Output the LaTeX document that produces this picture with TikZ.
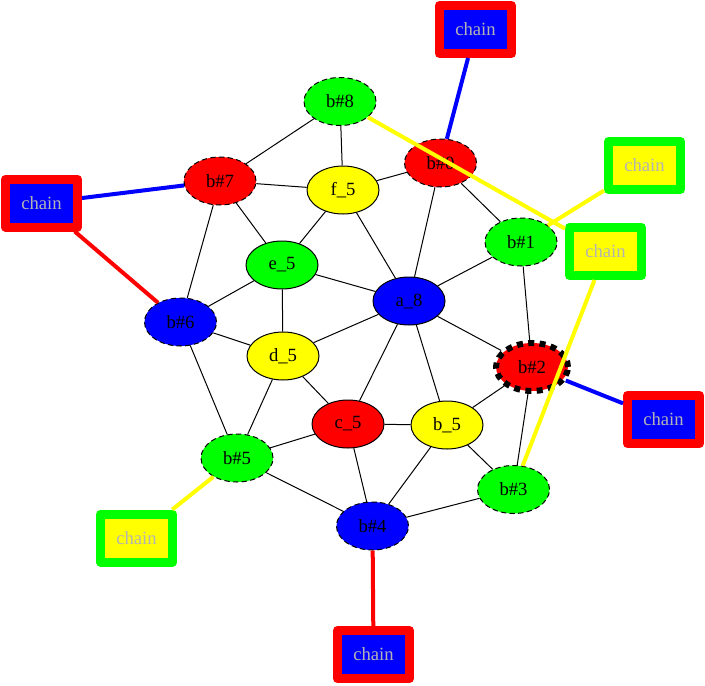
\documentclass[tikz,border=0pt]{standalone}
\usepackage{fontspec}
\setmainfont{Liberation Serif}
\usetikzlibrary{shapes.geometric}
\definecolor{gvgray}{HTML}{B4B4B4}
\definecolor{gvred}{HTML}{FF0000}
\definecolor{gvgreen}{HTML}{00FF00}
\definecolor{gvblue}{HTML}{0000FF}
\definecolor{gvyellow}{HTML}{FFFF00}
\begin{document}
\begin{tikzpicture}[x=0.75pt,y=-0.75pt,
  gnode/.style={ellipse, draw=black, line width=0.75pt, minimum width=54pt, minimum height=36pt, inner sep=0pt, font=\fontsize{14}{16}\selectfont},
  dnode/.style={gnode, dash pattern=on 4pt off 2.5pt},
  bignode/.style={gnode, line width=4.5pt, dash pattern=on 4.5pt off 4pt},
  chainbox/.style={rectangle, minimum width=54pt, minimum height=36pt, line width=6.75pt, line join=round, inner sep=0pt, text=gvgray, font=\fontsize{14}{16}\selectfont},
  edge/.style={draw=black, line width=0.75pt},
  cedge/.style={line width=3pt}]
\fill[white] (0,0) rectangle (705,685);
\useasboundingbox (0,0) rectangle (705,685);
% graph nodes
\node[dnode, fill=gvgreen] (b8) at (340,101.5) {b\#8};
\node[dnode, fill=gvred] (b0) at (440.5,163) {b\#0};
\node[dnode, fill=gvred] (b7) at (220,181) {b\#7};
\node[gnode, fill=gvyellow] (f5) at (343,190) {f\_5};
\node[dnode, fill=gvgreen] (b1) at (521,242) {b\#1};
\node[gnode, fill=gvgreen] (e5) at (282,265) {e\_5};
\node[gnode, fill=gvblue] (a8) at (409,301) {a\_8};
\node[dnode, fill=gvblue] (b6) at (180.5,322) {b\#6};
\node[gnode, fill=gvyellow] (d5) at (283,356) {d\_5};
\node[bignode, fill=gvred] (b2) at (532,367) {b\#2};
\node[gnode, fill=gvred] (c5) at (348,424) {c\_5};
\node[gnode, fill=gvyellow] (b5y) at (447,425) {b\_5};
\node[dnode, fill=gvgreen] (b5) at (237,458) {b\#5};
\node[dnode, fill=gvgreen] (b3) at (513.5,489.5) {b\#3};
\node[dnode, fill=gvblue] (b4) at (372.5,526) {b\#4};
% chain boxes
\node[chainbox, draw=gvred, fill=gvblue] (ct) at (475.5,29.5) {chain};
\node[chainbox, draw=gvred, fill=gvblue] (cl) at (41.5,203) {chain};
\node[chainbox, draw=gvgreen, fill=gvyellow] (ctr) at (644.5,165.5) {chain};
\node[chainbox, draw=gvgreen, fill=gvyellow] (cm) at (605.5,251.5) {chain};
\node[chainbox, draw=gvred, fill=gvblue] (cr) at (663.5,419.5) {chain};
\node[chainbox, draw=gvgreen, fill=gvyellow] (clb) at (136.5,538) {chain};
\node[chainbox, draw=gvred, fill=gvblue] (cb) at (373.5,654.5) {chain};
% black edges
\draw[edge] (b8) -- (b7);
\draw[edge] (b8) -- (f5);
\draw[edge] (b7) -- (f5);
\draw[edge] (b7) -- (e5);
\draw[edge] (b7) -- (b6);
\draw[edge] (f5) -- (b0);
\draw[edge] (f5) -- (e5);
\draw[edge] (f5) -- (a8);
\draw[edge] (b0) -- (a8);
\draw[edge] (b0) -- (b1);
\draw[edge] (b1) -- (a8);
\draw[edge] (b1) -- (b2);
\draw[edge] (e5) -- (b6);
\draw[edge] (e5) -- (d5);
\draw[edge] (e5) -- (a8);
\draw[edge] (b6) -- (d5);
\draw[edge] (b6) -- (b5);
\draw[edge] (a8) -- (d5);
\draw[edge] (a8) -- (c5);
\draw[edge] (a8) -- (b5y);
\draw[edge] (a8) -- (b2);
\draw[edge] (d5) -- (c5);
\draw[edge] (d5) -- (b5);
\draw[edge] (b2) -- (b5y);
\draw[edge] (b2) -- (b3);
\draw[edge] (c5) -- (b5y);
\draw[edge] (c5) -- (b5);
\draw[edge] (c5) -- (b4);
\draw[edge] (b5y) -- (b4);
\draw[edge] (b5y) -- (b3);
\draw[edge] (b5) -- (b4);
\draw[edge] (b4) -- (b3);
% chain edges
\draw[cedge, gvblue] (ct) -- (b0);
\draw[cedge, gvblue] (cl) -- (b7);
\draw[cedge, gvred] (cl) -- (b6);
\draw[cedge, gvyellow] (ctr) -- (b1);
\draw[cedge, gvyellow] (b8) -- (cm);
\draw[cedge, gvyellow] (cm) -- (b3);
\draw[cedge, gvblue] (b2) -- (cr);
\draw[cedge, gvyellow] (clb) -- (b5);
\draw[cedge, gvred] (b4) -- (cb);
\end{tikzpicture}
\end{document}
